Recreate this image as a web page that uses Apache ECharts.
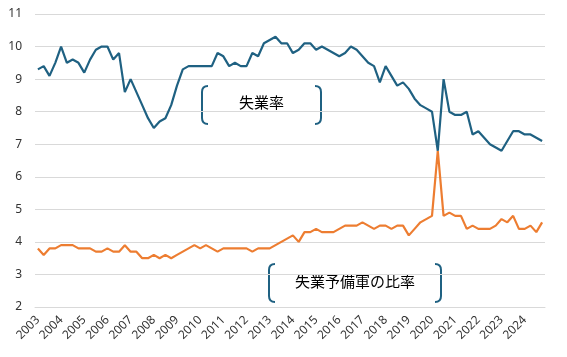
<!DOCTYPE html>
<html>
<head>
<meta charset="utf-8">
<script src="https://cdn.jsdelivr.net/npm/echarts@6/dist/echarts.min.js"></script>
<style>html,body{margin:0;padding:0;background:#fff;}#c{width:567px;height:357px;}</style>
</head>
<body>
<div id="c"></div>
<script>
const years = ['2003','2004','2005','2006','2007','2008','2009','2010','2011','2012','2013','2014','2015','2016','2017','2018','2019','2020','2021','2022','2023','2024'];
const quarters = ['Q1','Q2','Q3','Q4'];
const categories = [];
years.forEach(y => quarters.forEach(q => categories.push(y + q)));

const unemploymentRate = [
  9.3, 9.4, 9.1, 9.5,
  10.0, 9.5, 9.6, 9.5,
  9.2, 9.6, 9.9, 10.0,
  10.0, 9.6, 9.8, 8.6,
  9.0, 8.6, 8.2, 7.8,
  7.5, 7.7, 7.8, 8.2,
  8.8, 9.3, 9.4, 9.4,
  9.4, 9.4, 9.4, 9.8,
  9.7, 9.4, 9.5, 9.4,
  9.4, 9.8, 9.7, 10.1,
  10.2, 10.3, 10.1, 10.1,
  9.8, 9.9, 10.1, 10.1,
  9.9, 10.0, 9.9, 9.8,
  9.7, 9.8, 10.0, 9.9,
  9.7, 9.5, 9.4, 8.9,
  9.4, 9.1, 8.8, 8.9,
  8.7, 8.4, 8.2, 8.1,
  8.0, 6.8, 9.0, 8.0,
  7.9, 7.9, 8.0, 7.3,
  7.4, 7.2, 7.0, 6.9,
  6.8, 7.1, 7.4, 7.4,
  7.3, 7.3, 7.2, 7.1
];
const reserveRatio = [
  3.8, 3.6, 3.8, 3.8,
  3.9, 3.9, 3.9, 3.8,
  3.8, 3.8, 3.7, 3.7,
  3.8, 3.7, 3.7, 3.9,
  3.7, 3.7, 3.5, 3.5,
  3.6, 3.5, 3.6, 3.5,
  3.6, 3.7, 3.8, 3.9,
  3.8, 3.9, 3.8, 3.7,
  3.8, 3.8, 3.8, 3.8,
  3.8, 3.7, 3.8, 3.8,
  3.8, 3.9, 4.0, 4.1,
  4.2, 4.0, 4.3, 4.3,
  4.4, 4.3, 4.3, 4.3,
  4.4, 4.5, 4.5, 4.5,
  4.6, 4.5, 4.4, 4.5,
  4.5, 4.4, 4.5, 4.5,
  4.2, 4.4, 4.6, 4.7,
  4.8, 6.8, 4.8, 4.9,
  4.8, 4.8, 4.4, 4.5,
  4.4, 4.4, 4.4, 4.5,
  4.7, 4.6, 4.8, 4.4,
  4.4, 4.5, 4.3, 4.6
];
const yTicks = [2, 11, 1];
const seriesNames = ['失業率', '失業予備軍の比率'];

const blue = '#1F6182';
const orange = '#ED7D31';
const jpFont = '"Noto Sans CJK JP", sans-serif';

function bracket(x, y1, y2, dir) {
  const r = 6;
  const s = dir === 'left' ? 1 : -1;
  const st = {fill: 'none', stroke: blue, lineWidth: 2};
  return [
    {type: 'bezierCurve', shape: {x1: x + s * r, y1: y1, cpx1: x, cpy1: y1, x2: x, y2: y1 + r}, style: st},
    {type: 'line', shape: {x1: x, y1: y1 + r, x2: x, y2: y2 - r}, style: st},
    {type: 'bezierCurve', shape: {x1: x, y1: y2 - r, cpx1: x, cpy1: y2, x2: x + s * r, y2: y2}, style: st}
  ];
}

const chart = echarts.init(document.getElementById('c'), null, {renderer: 'canvas'});
chart.setOption({
  animation: false,
  backgroundColor: '#fff',
  grid: {left: 35, right: 22, top: 14, bottom: 50, containLabel: false},
  xAxis: {
    type: 'category',
    data: categories,
    boundaryGap: true,
    axisLine: {show: true, lineStyle: {color: '#d9d9d9', width: 1}},
    axisTick: {show: false},
    axisLabel: {
      interval: 3,
      rotate: 45,
      margin: 11,
      fontSize: 12,
      color: '#333',
      fontFamily: '"Noto Sans", sans-serif',
      formatter: v => v.slice(0, 4)
    },
    splitLine: {show: false}
  },
  yAxis: {
    type: 'value',
    min: yTicks[0], max: yTicks[1], interval: yTicks[2],
    axisLine: {show: false},
    axisTick: {show: false},
    axisLabel: {margin: 13, fontSize: 12, color: '#333', fontFamily: '"Noto Sans", sans-serif'},
    splitLine: {lineStyle: {color: '#d9d9d9', width: 1}}
  },
  series: [
    {name: seriesNames[1], type: 'line', data: reserveRatio, symbol: 'none',
     lineStyle: {color: orange, width: 2.2}, z: 2},
    {name: seriesNames[0], type: 'line', data: unemploymentRate, symbol: 'none',
     lineStyle: {color: blue, width: 2.2}, z: 3}
  ],
  graphic: [].concat(
    bracket(202, 86, 124, 'left'),
    bracket(321, 86, 124, 'right'),
    [{type: 'text', left: 239, top: 95, style: {text: seriesNames[0], font: '15px ' + jpFont, fill: '#000'}}],
    bracket(269, 264, 302, 'left'),
    bracket(441, 264, 302, 'right'),
    [{type: 'text', left: 295, top: 274, style: {text: seriesNames[1], font: '15px ' + jpFont, fill: '#000'}}]
  )
});
</script>
</body>
</html>
